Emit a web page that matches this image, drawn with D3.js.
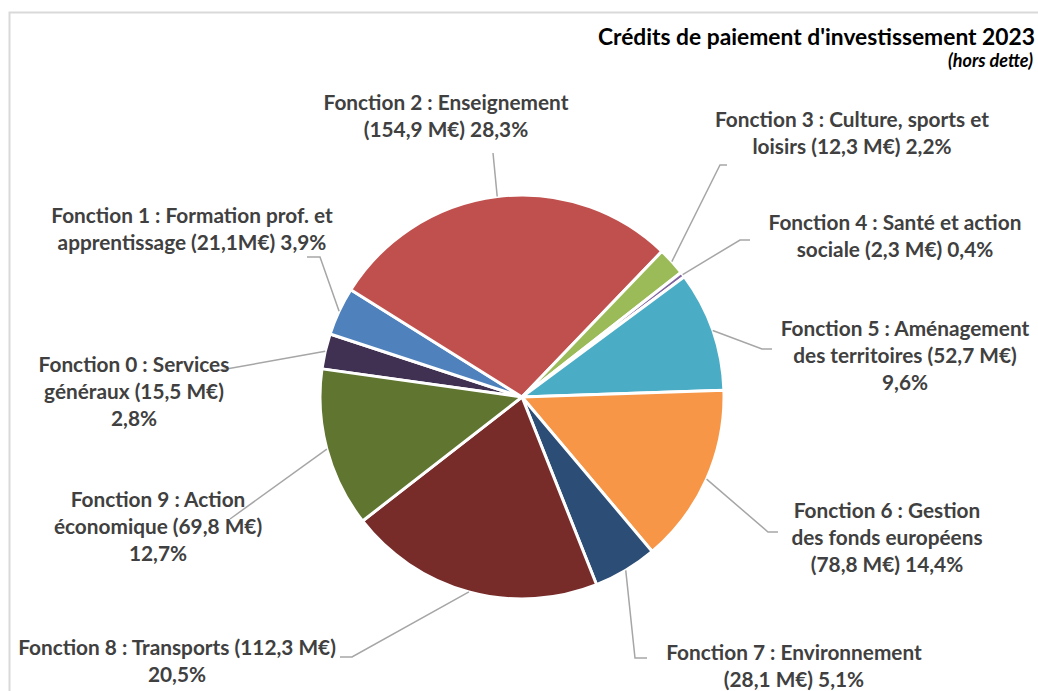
<!DOCTYPE html>
<html>
<head>
<meta charset="utf-8">
<script src="https://cdn.jsdelivr.net/npm/d3@7"></script>
<style>
  body { margin: 0; background: #fff; }
  svg text { font-family: Lato, "Noto Sans", sans-serif; }
</style>
</head>
<body>
<div id="chart"></div>
<script>
// data
var fonctions = ["Fonction 0", "Fonction 1", "Fonction 2", "Fonction 3", "Fonction 4",
                 "Fonction 5", "Fonction 6", "Fonction 7", "Fonction 8", "Fonction 9"];
var montants = [15.5, 21.1, 154.9, 12.3, 2.3, 52.7, 78.8, 28.1, 112.3, 69.8];
var labelLines = [
    ["Fonction 0 : Services", "généraux (15,5 M€)", "2,8%"],
    ["Fonction 1 : Formation prof. et", "apprentissage (21,1M€) 3,9%"],
    ["Fonction 2 : Enseignement", "(154,9 M€) 28,3%"],
    ["Fonction 3 : Culture, sports et", "loisirs (12,3 M€) 2,2%"],
    ["Fonction 4 : Santé et action", "sociale (2,3 M€) 0,4%"],
    ["Fonction 5 : Aménagement", "des territoires (52,7 M€)", "9,6%"],
    ["Fonction 6 : Gestion", "des fonds européens", "(78,8 M€) 14,4%"],
    ["Fonction 7 : Environnement", "(28,1 M€) 5,1%"],
    ["Fonction 8 : Transports (112,3 M€)", "20,5%"],
    ["Fonction 9 : Action", "économique (69,8 M€)", "12,7%"]
];
var colors = ["#403152", "#4f81bd", "#c0504d", "#9bbb59", "#8064a2",
              "#4bacc6", "#f79646", "#2c4d75", "#772c2a", "#5f7530"];

// label placement (x centre, first baseline, leader bend points)
var layout = [
    { x: 134, y: 372, pts: [[215, 371]] },
    { x: 192, y: 223, pts: [[320, 257], [307, 257]] },
    { x: 446, y: 110, pts: [[493, 153]] },
    { x: 852, y: 127, pts: [[720, 165], [727, 165]] },
    { x: 895, y: 230, pts: [[740, 240], [750, 240]] },
    { x: 905, y: 336, pts: [[762, 349], [772, 349]] },
    { x: 887, y: 518, pts: [[768, 532], [778, 532]] },
    { x: 794, y: 660, pts: [[635, 658], [647, 658]] },
    { x: 177, y: 655, pts: [[352, 657], [340, 657]] },
    { x: 158, y: 507, pts: [[230, 519]] }
];

var W = 1038, H = 691;
var cx = 522, cy = 397, r = 202;
var lineH = 27;

var svg = d3.select("#chart").append("svg")
    .attr("width", W)
    .attr("height", H);

// chart frame
svg.append("rect")
    .attr("x", 9.5).attr("y", 12.5)
    .attr("width", W + 20).attr("height", H + 20)
    .attr("fill", "#fff")
    .attr("stroke", "#d9d9d9")
    .attr("stroke-width", 2);

var start = -82 * Math.PI / 180;
var pie = d3.pie()
    .sort(null)
    .value(function (d) { return d; })
    .startAngle(start)
    .endAngle(start + 2 * Math.PI);

var arcs = pie(montants);
var arc = d3.arc().innerRadius(0).outerRadius(r);

var g = svg.append("g")
    .attr("transform", "translate(" + cx + "," + cy + ")");

g.selectAll("path.slice")
    .data(arcs)
    .enter().append("path")
    .attr("class", "slice")
    .attr("d", arc)
    .attr("fill", function (d, i) { return colors[i]; })
    .attr("stroke", "#fff")
    .attr("stroke-width", 3)
    .attr("stroke-linejoin", "round");

// leader lines
var line = d3.line();
arcs.forEach(function (d, i) {
    var a = (d.startAngle + d.endAngle) / 2;
    var p0 = [cx + r * Math.sin(a), cy - r * Math.cos(a)];
    svg.append("path")
        .attr("d", line([p0].concat(layout[i].pts)))
        .attr("fill", "none")
        .attr("stroke", "#a6a6a6")
        .attr("stroke-width", 1.5);
});

// labels
labelLines.forEach(function (lines, i) {
    var t = svg.append("text")
        .attr("text-anchor", "middle")
        .attr("fill", "#404040")
        .attr("font-size", "20.8px")
        .attr("font-weight", "bold");
    lines.forEach(function (s, k) {
        t.append("tspan")
            .attr("x", layout[i].x)
            .attr("y", layout[i].y + k * lineH)
            .text(s);
    });
});

// title
svg.append("text")
    .attr("x", 1035).attr("y", 45)
    .attr("text-anchor", "end")
    .attr("font-size", "22.8px")
    .attr("font-weight", "bold")
    .attr("fill", "#000")
    .text("Crédits de paiement d'investissement 2023");

svg.append("text")
    .attr("x", 1033).attr("y", 67)
    .attr("text-anchor", "end")
    .attr("font-size", "18px")
    .attr("font-weight", "bold")
    .attr("font-style", "italic")
    .attr("fill", "#000")
    .text("(hors dette)");
</script>
</body>
</html>
